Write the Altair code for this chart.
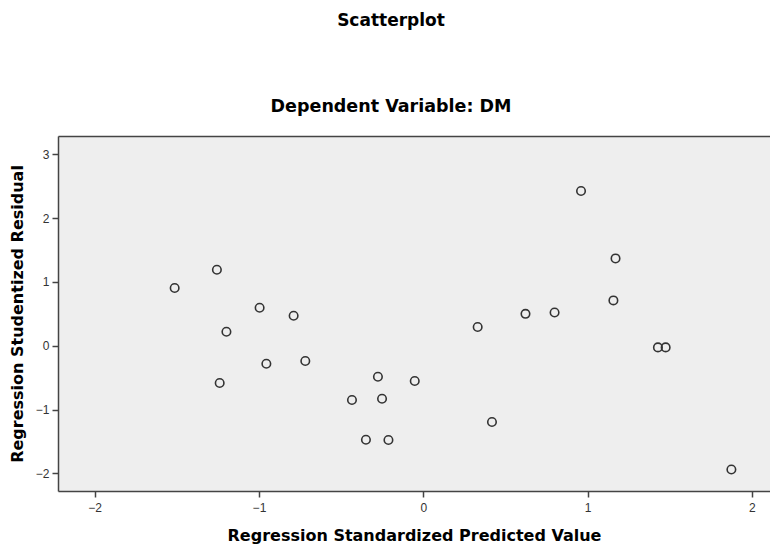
import altair as alt
import pandas as pd

# Regression standardized predicted value (x) and studentized residual (y)
pred = [-1.513, -1.256, -0.996, -0.789, -1.198, -0.955, -1.239, -0.718,
        -0.276, -0.052, -0.434, -0.251, -0.349, -0.212, 0.331, 0.418,
        0.622, 0.799, 0.960, 1.157, 1.170, 1.428, 1.475, 1.875]
resid = [0.904, 1.190, 0.596, 0.470, 0.219, -0.282, -0.585, -0.240,
         -0.486, -0.553, -0.851, -0.831, -1.473, -1.478, 0.293, -1.196,
         0.500, 0.520, 2.425, 0.710, 1.368, -0.026, -0.026, -1.940]
x_ticks = [-2, -1, 0, 1, 2]
y_ticks = [-2, -1, 0, 1, 2, 3]

df = pd.DataFrame({"pred": pred, "resid": resid})

x_scale = alt.Scale(domain=[-2.223, 2.110], nice=False, zero=False)
y_scale = alt.Scale(domain=[-2.277, 3.287], nice=False, zero=False)

points = alt.Chart(df).mark_point(
    shape="circle", filled=False, color="#333333", strokeWidth=1.6,
    size=72, opacity=1
).encode(
    x=alt.X("pred:Q", scale=x_scale,
            axis=alt.Axis(title="Regression Standardized Predicted Value", values=x_ticks,
                          format="d", grid=False)),
    y=alt.Y("resid:Q", scale=y_scale,
            axis=alt.Axis(title="Regression Studentized Residual", values=y_ticks,
                          format="d", grid=False)),
)

# top frame line drawn as a second x axis (domain only)
top_frame = alt.Chart(df).mark_point(opacity=0).encode(
    x=alt.X("pred:Q", scale=x_scale,
            axis=alt.Axis(orient="top", title=None, labels=False, ticks=False,
                          grid=False, domain=True)),
    y=alt.Y("resid:Q", scale=y_scale, axis=None),
)

chart = alt.layer(points, top_frame).resolve_axis(
    x="independent", y="independent"
).properties(
    width=712,
    height=355,
    autosize=alt.AutoSizeParams(type="none"),
    padding={"left": 50, "top": 128, "right": 0, "bottom": 55},
    title=alt.TitleParams(
        text="Scatterplot",
        subtitle="Dependent Variable: DM",
    ),
).configure_view(
    fill="#eeeeee", stroke=None
).configure_axis(
    domainColor="#444444", domainWidth=1.5,
    tickColor="#444444", tickWidth=1.5, tickSize=6,
    labelFont="Liberation Sans", labelFontSize=12, labelColor="#333333",
    titleFont="DejaVu Sans", titleFontSize=16, titleFontWeight="bold", titleColor="#000000",
).configure_axisX(
    labelPadding=5, titlePadding=14,
).configure_axisY(
    labelPadding=3, titlePadding=10,
).configure_title(
    font="DejaVu Sans", fontSize=17, fontWeight="bold", color="#000000",
    subtitleFont="DejaVu Sans", subtitleFontSize=17.5, subtitleFontWeight="bold",
    subtitleColor="#000000", subtitlePadding=68, anchor="middle", frame="group",
    dx=-23, offset=20,
)

chart.save("out.html", embed_options={"renderer": "svg", "actions": False})
